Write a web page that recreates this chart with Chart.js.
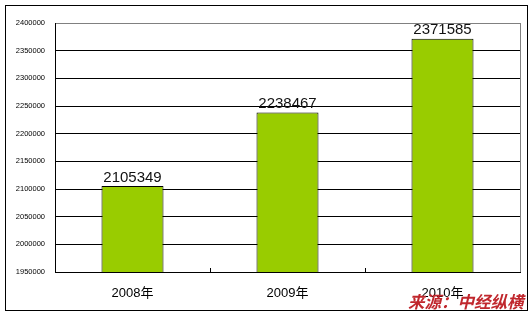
<!DOCTYPE html>
<html>
<head>
<meta charset="utf-8">
<script src="https://cdn.jsdelivr.net/npm/chart.js@4/dist/chart.umd.min.js"></script>
<style>
  html, body { margin: 0; padding: 0; background: #fff; }
  #wrap { position: relative; width: 532px; height: 316px; }
  #source {
    position: absolute; left: 408px; top: 291px;
    font-family: "Noto Sans CJK SC", sans-serif; font-weight: bold; font-style: italic;
    font-size: 16.5px; color: #c0272d; line-height: 20px;
  }
</style>
</head>
<body>
<div id="wrap">
  <canvas id="chart" width="532" height="316"></canvas>
  <div id="source">来源：中经纵横</div>
</div>
<script>
const years = ["2008年", "2009年", "2010年"];
const values = [2105349, 2238467, 2371585];
const yMin = 1950000;
const yMax = 2400000;
const yStep = 50000;

const frame = {
  id: "frame",
  beforeDraw(chart) {
    const c = chart.ctx;
    c.save();
    c.fillStyle = "#fff";
    c.fillRect(0, 0, chart.width, chart.height);
    c.restore();
  },
  afterDraw(chart) {
    const c = chart.ctx;
    const a = chart.chartArea;
    const x = chart.scales.x;
    c.save();
    // outer border
    c.strokeStyle = "#000";
    c.lineWidth = 1;
    c.strokeRect(5.5, 5.5, chart.width - 10, chart.height - 11);
    // right side of plot
    c.strokeStyle = "#808080";
    c.beginPath();
    c.moveTo(Math.round(a.right) + 0.5, a.top);
    c.lineTo(Math.round(a.right) + 0.5, a.bottom);
    c.stroke();
    // inner tick marks between categories
    c.strokeStyle = "#000";
    for (let i = 1; i < years.length; i++) {
      const px = Math.round((x.getPixelForTick(i - 1) + x.getPixelForTick(i)) / 2) + 0.5;
      c.beginPath();
      c.moveTo(px, a.bottom);
      c.lineTo(px, a.bottom - 4);
      c.stroke();
    }
    // value labels
    const meta = chart.getDatasetMeta(0);
    c.fillStyle = "#111";
    c.font = "15px 'Liberation Sans', sans-serif";
    c.textAlign = "center";
    c.textBaseline = "bottom";
    meta.data.forEach((bar, i) => {
      c.fillText(String(values[i]), bar.x, bar.y - 1);
    });
    c.restore();
  }
};

new Chart(document.getElementById("chart"), {
  type: "bar",
  data: {
    labels: years,
    datasets: [{
      data: values,
      backgroundColor: "#99cc00",
      borderColor: "#000",
      borderWidth: 1,
      barPercentage: 0.4,
      categoryPercentage: 1
    }]
  },
  options: {
    responsive: false,
    animation: false,
    layout: { padding: { left: 5, right: 12, top: 23, bottom: 0 } },
    plugins: { legend: { display: false }, tooltip: { enabled: false } },
    scales: {
      x: {
        grid: { display: false },
        border: { color: "#000" },
        ticks: { color: "#000", padding: 6, font: { size: 13, family: "'Liberation Sans', 'Noto Sans CJK SC', sans-serif" } },
        afterFit(s) { s.height = 44; }
      },
      y: {
        min: yMin,
        max: yMax,
        ticks: {
          stepSize: yStep, color: "#000", padding: 10,
          font: { size: 7.5, family: "'Liberation Sans', sans-serif" },
          callback: (v) => String(v)
        },
        grid: {
          color: (ctx) => ctx.tick && ctx.tick.value === yMax ? "#808080" : "#000",
          drawTicks: false
        },
        border: { color: "#000" },
        afterFit(s) { s.width = 50; }
      }
    }
  },
  plugins: [frame]
});
</script>
</body>
</html>
